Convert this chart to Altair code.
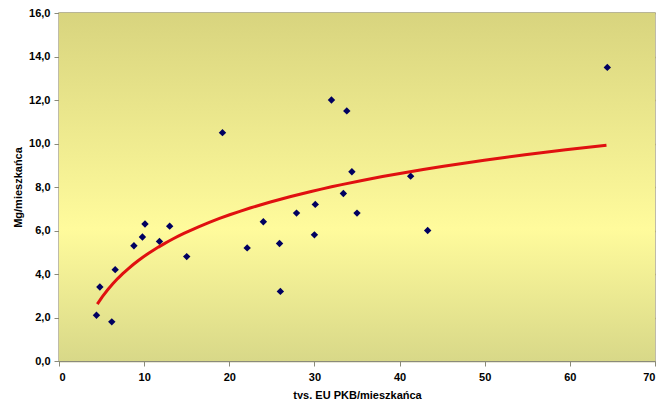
import altair as alt
import pandas as pd

# GDP per capita (thousand EUR) and waste per capita (Mg)
gdp = [4.4, 4.8, 6.2, 6.6, 8.8, 9.8, 10.1, 11.8, 13.0, 15.0, 19.2, 22.1, 24.0, 25.9,
       26.0, 27.9, 30.1, 30.0, 32.0, 33.4, 33.8, 34.4, 35.0, 41.3, 43.3, 64.4]
waste = [2.1, 3.4, 1.8, 4.2, 5.3, 5.7, 6.3, 5.5, 6.2, 4.8, 10.5, 5.2, 6.4, 5.4,
         3.2, 6.8, 7.2, 5.8, 12.0, 7.7, 11.5, 8.7, 6.8, 8.5, 6.0, 13.5]
trend_extent = [4.5, 64.3]
x_ticks = [0, 10, 20, 30, 40, 50, 60, 70]
y_ticks = [0, 2, 4, 6, 8, 10, 12, 14, 16]

df = pd.DataFrame({"x": gdp, "y": waste})

W, H = 596, 348
FONT = "Arial, Liberation Sans, sans-serif"

xscale = alt.Scale(domain=[0, 70], nice=False, zero=False)
yscale = alt.Scale(domain=[0, 16], nice=False)

bg = alt.Chart(pd.DataFrame({"a": [0]})).mark_rect(
    color=alt.Gradient(
        gradient="linear",
        stops=[
            alt.GradientStop(color="#d8d47e", offset=0),
            alt.GradientStop(color="#fffb9c", offset=0.62),
            alt.GradientStop(color="#d8d888", offset=1),
        ],
        x1=0, x2=0, y1=0, y2=1,
    )
).encode(x=alt.value(0), x2=alt.value(W), y=alt.value(0), y2=alt.value(H))

xaxis = alt.Axis(
    values=x_ticks, format="d", title="tys. EU PKB/mieszkańca", grid=False,
    tickSize=5, labelPadding=5, titlePadding=7,
)
yaxis = alt.Axis(
    values=y_ticks, title="Mg/mieszkańca", grid=True,
    labelExpr="replace(format(datum.value, '.1f'), '.', ',')",
    tickSize=5, labelPadding=4, titleX=-36,
)

points = alt.Chart(df).mark_point(
    shape="diamond", filled=True, color="#000060", size=55, opacity=1
).encode(
    x=alt.X("x:Q", scale=xscale, axis=xaxis),
    y=alt.Y("y:Q", scale=yscale, axis=yaxis),
)

trend = alt.Chart(df).transform_regression(
    "x", "y", method="log", extent=trend_extent
).mark_line(color="#e01010", strokeWidth=3).encode(
    x=alt.X("x:Q", scale=xscale),
    y=alt.Y("y:Q", scale=yscale),
)

chart = alt.layer(bg, points, trend).properties(
    width=W, height=H,
    autosize=alt.AutoSizeParams(type="none"),
    padding={"left": 51, "top": 5, "right": 8, "bottom": 38},
).configure_view(
    stroke="#aaa78c", strokeWidth=1.5
).configure_axis(
    labelFont=FONT, titleFont=FONT, labelFontSize=11, titleFontSize=11,
    labelFontWeight="bold", titleFontWeight="bold",
    labelColor="#000000", titleColor="#000000",
    domainColor="#8a8a7a", tickColor="#8a8a7a",
    gridColor="#a59f62", gridWidth=1.5, gridOpacity=1,
)

chart.save("out.html", embed_options={"renderer": "svg", "actions": False})
